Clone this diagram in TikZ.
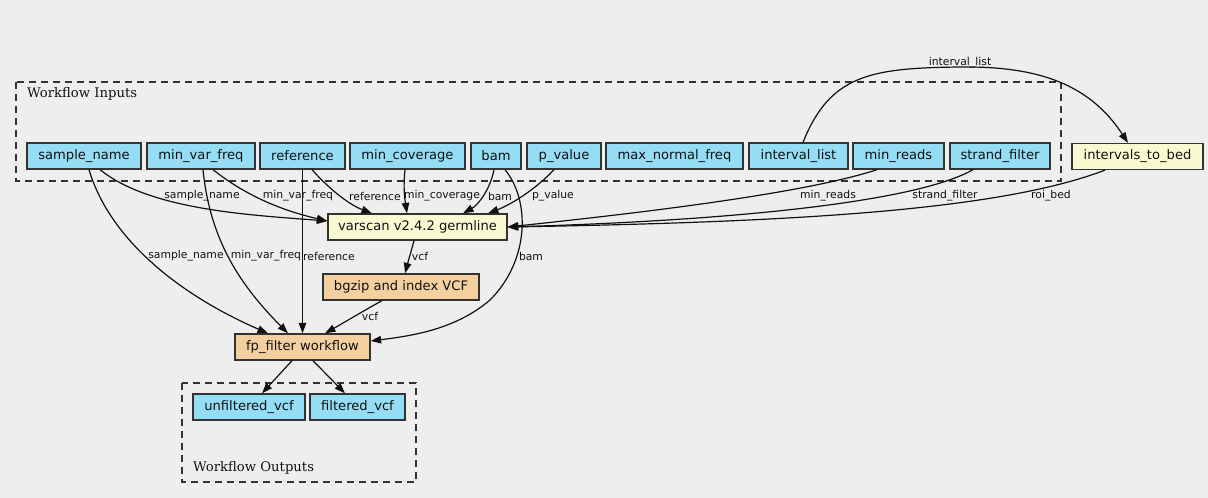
\documentclass[tikz,border=0pt]{standalone}
\usepackage{fontspec}
\setmainfont{DejaVu Sans}
\newfontfamily\clusterfont{DejaVu Serif}
\usetikzlibrary{arrows.meta,calc}
\definecolor{bgc}{HTML}{EEEEEE}
\definecolor{inblue}{HTML}{94DDF4}
\definecolor{stepyel}{HTML}{FAFAD2}
\definecolor{steporg}{HTML}{F4D0A0}
\definecolor{edgec}{HTML}{111111}
\definecolor{borderc}{HTML}{333333}
\definecolor{txtc}{HTML}{111111}
\tikzset{
  box/.style={draw=borderc, line width=1.3pt, rectangle, minimum height=26pt, inner sep=0pt,
    font=\fontsize{13.1}{15}\selectfont, text=txtc},
  inp/.style={box, fill=inblue},
  tool/.style={box, fill=stepyel},
  wf/.style={box, fill=steporg},
  elab/.style={font=\fontsize{10.8}{12}\selectfont, inner sep=0pt, text=txtc},
  conn/.style={draw=edgec, line width=1.2pt, -{Triangle[length=10.5pt,width=7.5pt]}},
  cluster/.style={draw=borderc, line width=1.3pt, dash pattern=on 7pt off 5pt},
  clab/.style={font=\clusterfont\fontsize{13.2}{15}\selectfont, inner sep=0pt, anchor=west, text=txtc}
}
\begin{document}
\begin{tikzpicture}[x=1pt,y=-1pt]
\fill[bgc] (0,0) rectangle (1208,498);
\useasboundingbox (0,0) rectangle (1208,498);
% clusters
\draw[cluster] (16,82) rectangle (1061,181);
\draw[cluster] (182,383) rectangle (416,482);
\node[clab] (lin) at (27,94) {Workflow Inputs};
\node[clab] (lout) at (193,468) {Workflow Outputs};
% input nodes
\node[inp, minimum width=114pt] (sample_name) at (84,156) {sample\_name};
\node[inp, minimum width=108pt] (min_var_freq) at (201,156) {min\_var\_freq};
\node[inp, minimum width=85pt] (reference) at (302.5,156) {reference};
\node[inp, minimum width=115pt] (min_coverage) at (407.5,156) {min\_coverage};
\node[inp, minimum width=50pt] (bam) at (496,156) {bam};
\node[inp, minimum width=74pt] (p_value) at (564,156) {p\_value};
\node[inp, minimum width=137pt] (max_normal_freq) at (674.5,156) {max\_normal\_freq};
\node[inp, minimum width=99pt] (interval_list) at (798.5,156) {interval\_list};
\node[inp, minimum width=91pt] (min_reads) at (898.5,156) {min\_reads};
\node[inp, minimum width=100pt] (strand_filter) at (1000,156) {strand\_filter};
% steps
\node[tool, minimum width=131pt] (itb) at (1137.5,156.5) {intervals\_to\_bed};
\node[tool, minimum width=179pt] (varscan) at (417.5,227) {varscan v2.4.2 germline};
\node[wf, minimum width=156pt] (bgzip) at (401,287) {bgzip and index VCF};
\node[wf, minimum width=135pt] (fp) at (302.5,347) {fp\_filter workflow};
% outputs
\node[inp, minimum width=112pt] (unf) at (249,407) {unfiltered\_vcf};
\node[inp, minimum width=95pt] (filt) at (357.5,407) {filtered\_vcf};
% edges into varscan
\draw[conn] ([xshift=16pt]sample_name.south) .. controls (150,210) and (250,215) .. ([yshift=6pt]varscan.west);
\draw[conn] ([xshift=12pt]min_var_freq.south) .. controls (245,195) and (280,210) .. ([yshift=6pt]varscan.west);
\draw[conn] ([xshift=9.5pt]reference.south) .. controls (330,190) and (350,205) .. ([xshift=-45.5pt]varscan.north);
\draw[conn] ([xshift=-2.5pt]min_coverage.south) .. controls (403,190) and (405,200) .. ([xshift=-10.5pt]varscan.north);
\draw[conn] ([xshift=-2pt]bam.south) .. controls (490,190) and (478,205) .. ([xshift=45.5pt]varscan.north);
\draw[conn] ([xshift=-10pt]p_value.south) .. controls (535,190) and (510,205) .. ([xshift=70.5pt]varscan.north);
\draw[conn] ([xshift=-21.5pt]min_reads.south) .. controls (800,195) and (620,215) .. (varscan.east);
\draw[conn] ([xshift=-27pt]strand_filter.south) .. controls (920,200) and (750,220) .. (varscan.east);
\draw[conn] ([xshift=-32.5pt]itb.south) .. controls (1000,210) and (800,222) .. (varscan.east);
% interval_list -> intervals_to_bed
\draw[conn] ([xshift=4.5pt]interval_list.north) .. controls (830,75) and (870,68) .. (960,67)
  .. controls (1040,66) and (1090,85) .. ([xshift=-9.5pt]itb.north);
% varscan -> bgzip -> fp
\draw[conn] ([xshift=-3.5pt]varscan.south) .. controls (411,252) and (408,262) .. ([xshift=4pt]bgzip.north);
\draw[conn] ([xshift=-19pt]bgzip.south) .. controls (365,310) and (345,322) .. ([xshift=22.5pt]fp.north);
% inputs -> fp
\draw[conn] ([xshift=5pt]sample_name.south) .. controls (110,240) and (180,295) .. ([xshift=-34.5pt]fp.north);
\draw[conn] ([xshift=2pt]min_var_freq.south) .. controls (210,240) and (240,285) .. ([xshift=-14.5pt]fp.north);
\draw[conn] (reference.south) -- (fp.north);
\draw[conn] ([xshift=9pt]bam.south) .. controls (530,200) and (530,260) .. (490,300)
  .. controls (455,330) and (410,336) .. ([yshift=6pt]fp.east);
% fp -> outputs
\draw[conn] ([xshift=-10.5pt]fp.south) -- ([xshift=13pt]unf.north);
\draw[conn] ([xshift=10.5pt]fp.south) -- ([xshift=-12.5pt]filt.north);
% edge labels
\node[elab] (l1) at (202,196) {sample\_name};
\node[elab] (l2) at (298,196) {min\_var\_freq};
\node[elab] (l3) at (375,196) {reference};
\node[elab] (l4) at (442,196) {min\_coverage};
\node[elab] (l5) at (500,196) {bam};
\node[elab] (l6) at (553,196) {p\_value};
\node[elab] (l7) at (828,196) {min\_reads};
\node[elab] (l8) at (945,196) {strand\_filter};
\node[elab] (l9) at (1051,196) {roi\_bed};
\node[elab] (l10) at (960,63) {interval\_list};
\node[elab] (l11) at (186,256) {sample\_name};
\node[elab] (l12) at (266,256) {min\_var\_freq};
\node[elab] (l13) at (329,256) {reference};
\node[elab] (l14) at (420,256) {vcf};
\node[elab] (l15) at (531,256) {bam};
\node[elab] (l16) at (370,316) {vcf};
\end{tikzpicture}
\end{document}
